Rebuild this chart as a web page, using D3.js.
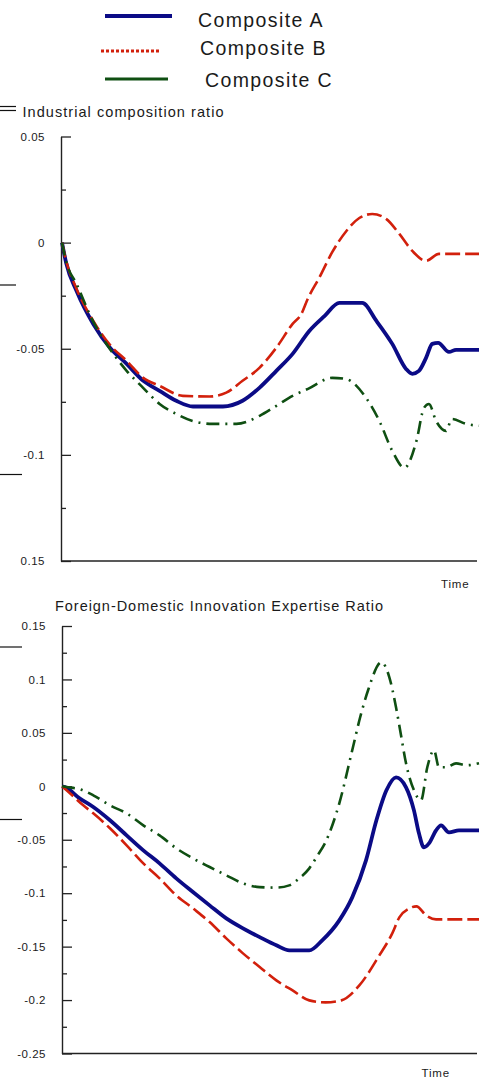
<!DOCTYPE html>
<html>
<head>
<meta charset="utf-8">
<script src="https://cdn.jsdelivr.net/npm/d3@7"></script>
<style>
  html, body { margin: 0; padding: 0; background: #fff; }
  svg { display: block; }
  text { font-family: "Liberation Sans", Arial, sans-serif; fill: #1a1a1a; }
</style>
</head>
<body>
<svg id="chart" width="482" height="1079"></svg>
<script>
// ---------- DATA ----------
const seriesNames = ["Composite A", "Composite B", "Composite C"];

// Top panel: Industrial composition ratio
const topTitle = "Industrial composition ratio";
const topTickValues = [0.05, 0, -0.05, -0.1, -0.15];
const topTickLabels = ["0.05", "0", "-0.05", "-0.1", "0.15"];

const topTimeA = [0, 1, 3.5, 7.5, 11.5, 15.5, 19.5, 23.4, 27.4, 31.4, 38.6, 43.3, 47.4, 51.4, 55.3, 59.3, 63, 66.5, 72, 75.4, 79.2, 82.5, 84, 85.6, 87.3, 88.8, 90.2, 92.8, 94.5, 100];
const topA = [0, -0.0096, -0.0228, -0.0383, -0.0495, -0.0571, -0.0651, -0.0698, -0.0745, -0.0772, -0.0772, -0.0745, -0.0683, -0.0604, -0.0524, -0.0416, -0.0345, -0.0284, -0.0284, -0.0369, -0.0477, -0.0595, -0.0618, -0.0604, -0.0543, -0.0477, -0.0472, -0.0515, -0.0505, -0.0505];

const topTimeB = [0, 1, 3.5, 7.5, 11.5, 15.5, 19.4, 23.4, 29, 35.4, 39.4, 43.3, 47.4, 51.4, 55.3, 57.4, 59, 61.7, 64.8, 68.2, 71.3, 74.4, 77.8, 80.9, 84, 87.3, 90.4, 94.5, 100];
const topB = [0, -0.0086, -0.0218, -0.0369, -0.0482, -0.0557, -0.0636, -0.0675, -0.0722, -0.0725, -0.0707, -0.0651, -0.0589, -0.0495, -0.0383, -0.0336, -0.0262, -0.0165, -0.0045, 0.0055, 0.0116, 0.0135, 0.0111, 0.0041, -0.0039, -0.0086, -0.0053, -0.0053, -0.0053];

const topTimeC = [0, 1, 3.5, 7.4, 11.5, 15.5, 19.4, 23.4, 27.4, 31.3, 36.1, 41.8, 47.4, 51.4, 55.3, 59, 64.8, 68, 72.9, 76.1, 79.2, 82.1, 85, 86.8, 88, 89.7, 92.1, 93.5, 96.9, 100];
const topC = [0, -0.009, -0.0195, -0.0369, -0.0501, -0.0604, -0.0683, -0.076, -0.0807, -0.084, -0.0854, -0.0854, -0.0816, -0.0769, -0.0722, -0.0689, -0.0637, -0.0642, -0.0731, -0.084, -0.0981, -0.1061, -0.0934, -0.0779, -0.076, -0.084, -0.0887, -0.0831, -0.0854, -0.0863];

// Bottom panel: Foreign-Domestic Innovation Expertise Ratio
const botTitle = "Foreign-Domestic Innovation Expertise Ratio";
const botTickValues = [0.15, 0.1, 0.05, 0, -0.05, -0.1, -0.15, -0.2, -0.25];
const botTickLabels = ["0.15", "0.1", "0.05", "0", "-0.05", "-0.1", "-0.15", "-0.2", "-0.25"];

const botTimeA = [0, 0.7, 4.3, 7.5, 11.5, 15.5, 19.5, 23.4, 27.4, 31.4, 35.4, 39.4, 43.4, 47.4, 51.4, 54.5, 59.3, 62.4, 66.5, 69.6, 72.9, 75.4, 77.8, 80.1, 82.5, 84.4, 85.6, 86.8, 88, 89.7, 90.9, 92.8, 95.2, 100];
const botA = [0, -0.0007, -0.0115, -0.0194, -0.0318, -0.0459, -0.0599, -0.0721, -0.0861, -0.0989, -0.1114, -0.1236, -0.1329, -0.1411, -0.1488, -0.1535, -0.1535, -0.1441, -0.1254, -0.1039, -0.0693, -0.0318, -0.0037, 0.0084, -0.0009, -0.0225, -0.044, -0.0571, -0.0534, -0.0412, -0.0365, -0.0431, -0.0412, -0.0412];

const botTimeB = [0, 1.1, 5.1, 7.5, 11.5, 15.5, 19.5, 23.4, 27.4, 31.4, 35.4, 39.4, 43.4, 47.4, 51.4, 55.3, 59.3, 63.2, 67, 71.3, 76.1, 79.2, 80.9, 83.3, 85, 87.3, 89.7, 92.8, 100];
const botB = [0, -0.0037, -0.0178, -0.0253, -0.0393, -0.0552, -0.0721, -0.0861, -0.102, -0.1142, -0.127, -0.1423, -0.1563, -0.1691, -0.1816, -0.191, -0.2003, -0.2022, -0.2003, -0.1863, -0.1582, -0.1376, -0.1226, -0.1142, -0.1123, -0.1207, -0.1245, -0.1245, -0.1245];

const botTimeC = [0, 1.1, 4.3, 7.5, 11.5, 15.5, 19.5, 23.4, 27.4, 31.4, 35.4, 39.4, 43.4, 47.4, 51.4, 54.5, 56.9, 59.3, 61, 63.4, 66.5, 69.6, 71.5, 73.4, 76.6, 78.5, 80.1, 81.3, 82.5, 84.4, 86.1, 87.6, 89.2, 90.4, 92.1, 94.5, 96.9, 100];
const botC = [0, -0.0007, -0.0028, -0.0084, -0.0178, -0.0253, -0.0365, -0.0459, -0.058, -0.0674, -0.0755, -0.0833, -0.0908, -0.0943, -0.0948, -0.0927, -0.0861, -0.0768, -0.0665, -0.0505, -0.0159, 0.0337, 0.0646, 0.0899, 0.1161, 0.102, 0.0739, 0.0477, 0.0215, -0.0037, -0.0131, 0.0178, 0.0337, 0.0178, 0.0178, 0.0215, 0.0197, 0.0215];

const axisTitle = "Time";

// ---------- STYLES ----------
const colors = ["#0b0b86", "#d2200c", "#0f4f12"];
const widths = [3.8, 2.6, 2.6];
const dashes = [null, "15,5", "13,6,2,6"];

const svg = d3.select("#chart");

// ---------- LEGEND ----------
const legend = svg.append("g");
const legendRows = [
  { y: 16, x1: 105, x2: 172, tx: 198, ty: 26.7, w: 4, dash: null },
  { y: 51, x1: 101, x2: 161, tx: 200, ty: 54.5, w: 3, dash: "3,2" },
  { y: 79, x1: 105, x2: 168, tx: 205, ty: 86.7, w: 3, dash: null }
];
legendRows.forEach((r, i) => {
  legend.append("line")
    .attr("x1", r.x1).attr("x2", r.x2).attr("y1", r.y).attr("y2", r.y)
    .attr("stroke", colors[i]).attr("stroke-width", r.w)
    .attr("stroke-dasharray", r.dash);
  legend.append("text")
    .attr("x", r.tx).attr("y", r.ty)
    .attr("font-size", 19.5).attr("letter-spacing", "1.4px")
    .text(seriesNames[i]);
});

// ---------- PANEL BUILDER ----------
function panel(opts) {
  const g = svg.append("g");
  const x = d3.scaleLinear().domain([0, 100]).range([62, 479]);
  const y = d3.scaleLinear().domain(opts.domain).range(opts.range);

  // major ticks with labels
  const major = d3.axisLeft(y)
    .tickValues(opts.ticks)
    .tickSizeInner(-10).tickSizeOuter(0).tickPadding(16)
    .tickFormat((d, i) => opts.labels[i]);
  const ga = g.append("g").attr("transform", `translate(${opts.axisX},0)`).call(major);
  ga.select(".domain").attr("stroke", "#222").attr("stroke-width", 1.4);
  ga.selectAll(".tick line").attr("stroke", "#222").attr("stroke-width", 1.3);
  ga.selectAll(".tick text")
    .attr("font-family", "'Liberation Sans', Arial, sans-serif")
    .attr("font-size", 11.5).attr("letter-spacing", "0.5px").attr("fill", "#2a2a2a");

  // minor ticks
  const minorVals = opts.ticks.slice(0, -1).map((d, i) => (d + opts.ticks[i + 1]) / 2);
  const minor = d3.axisLeft(y).tickValues(minorVals).tickSizeInner(-5).tickSizeOuter(0).tickFormat("");
  const gm = g.append("g").attr("transform", `translate(${opts.axisX},0)`).call(minor);
  gm.select(".domain").remove();
  gm.selectAll(".tick line").attr("stroke", "#222").attr("stroke-width", 1.3);

  // x axis line
  g.append("line")
    .attr("x1", opts.axisX).attr("x2", 477)
    .attr("y1", y(opts.domain[0])).attr("y2", y(opts.domain[0]))
    .attr("stroke", "#222").attr("stroke-width", 1.5);

  // axis title
  g.append("text").attr("x", opts.timeX).attr("y", opts.timeY)
    .attr("font-size", 11.5).attr("letter-spacing", "0.8px").text(axisTitle);

  // panel title
  g.append("text").attr("x", opts.titleX).attr("y", opts.titleY)
    .attr("font-size", 14.5)
    .attr("textLength", opts.titleLen).attr("lengthAdjust", "spacing")
    .text(opts.title);

  // lines
  const line = d3.line().x(d => x(d[0])).y(d => y(d[1])).curve(d3.curveMonotoneX);
  opts.series.forEach((s, i) => {
    const pts = s.t.map((t, k) => [t, s.v[k]]);
    g.append("path").datum(pts)
      .attr("d", line)
      .attr("fill", "none")
      .attr("stroke", colors[i])
      .attr("stroke-width", widths[i])
      .attr("stroke-linejoin", "round")
      .attr("stroke-dasharray", dashes[i]);
  });
}

panel({
  domain: [-0.15, 0.05], range: [561, 136.5], axisX: 61,
  ticks: topTickValues, labels: topTickLabels,
  title: topTitle, titleX: 22.5, titleY: 117, titleLen: 201,
  timeX: 441, timeY: 588,
  series: [{ t: topTimeA, v: topA }, { t: topTimeB, v: topB }, { t: topTimeC, v: topC }]
});

panel({
  domain: [-0.25, 0.15], range: [1053.5, 626], axisX: 62,
  ticks: botTickValues, labels: botTickLabels,
  title: botTitle, titleX: 55, titleY: 610.5, titleLen: 328,
  timeX: 421.5, timeY: 1077,
  series: [{ t: botTimeA, v: botA }, { t: botTimeB, v: botB }, { t: botTimeC, v: botC }]
});

// ---------- stray crop fragments at the left edge ----------
const frag = svg.append("g").attr("stroke", "#111").attr("stroke-width", 1.2);
[[0, 16, 285], [0, 22, 474.5], [0, 22, 647], [0, 22, 819.5], [0, 16, 106.5], [0, 16, 110.5]]
  .forEach(f => frag.append("line").attr("x1", f[0]).attr("x2", f[1]).attr("y1", f[2]).attr("y2", f[2]));
</script>
</body>
</html>
